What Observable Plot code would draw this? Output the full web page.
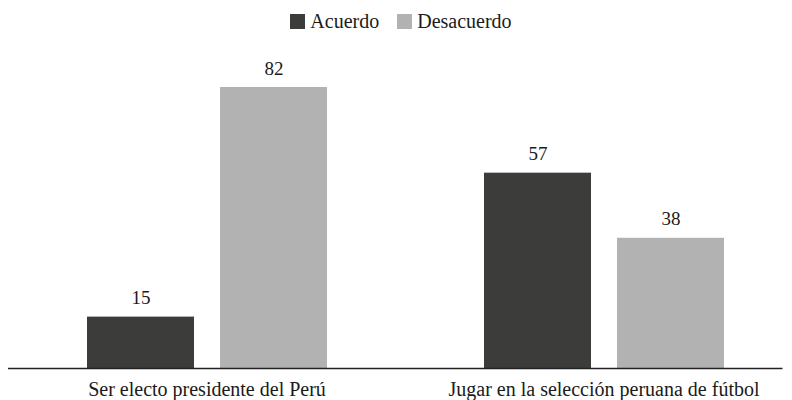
<!DOCTYPE html>
<html>
<head>
<meta charset="utf-8">
<script src="https://cdn.jsdelivr.net/npm/d3@7"></script>
<script src="https://cdn.jsdelivr.net/npm/@observablehq/plot@0.6"></script>
<style>
  html, body { margin: 0; padding: 0; background: #fff; }
  body { width: 792px; height: 400px; overflow: hidden; font-family: "Liberation Serif", serif; color: #1a1a1a; }
  #legend { height: 40px; box-sizing: border-box; padding-left: 10px; display: flex; justify-content: center; align-items: flex-start; gap: 18px; font-size: 20px; line-height: 20px; }
  #legend .item { display: flex; align-items: center; margin-top: 11px; }
  #legend .sw { width: 15px; height: 15px; margin-right: 5px; }
  #chart svg { display: block; }
</style>
</head>
<body>
<div id="legend"></div>
<div id="chart"></div>
<script>
const categories = ["Ser electo presidente del Perú", "Jugar en la selección peruana de fútbol"];
const series = ["Acuerdo", "Desacuerdo"];
const acuerdo = [15, 57];
const desacuerdo = [82, 38];
const colors = ["#3c3c3b", "#b2b2b2"];

const rows = [];
categories.forEach((c, i) => {
  rows.push({cat: c, serie: series[0], value: acuerdo[i]});
  rows.push({cat: c, serie: series[1], value: desacuerdo[i]});
});

const legend = document.getElementById("legend");
series.forEach((s, i) => {
  const item = document.createElement("div");
  item.className = "item";
  const sw = document.createElement("span");
  sw.className = "sw";
  sw.style.background = colors[i];
  const t = document.createElement("span");
  t.textContent = s;
  item.appendChild(sw);
  item.appendChild(t);
  legend.appendChild(item);
});

const chart = Plot.plot({
  width: 792,
  height: 360,
  marginTop: 47,
  marginBottom: 32,
  marginLeft: 0,
  marginRight: 0,
  style: {fontFamily: "Liberation Serif", fontSize: "20px", color: "#1a1a1a", background: "#fff"},
  fx: {domain: categories, range: [7.5, 801.5], padding: 0, label: null, axis: "bottom", tickSize: 0, tickPadding: 13},
  x: {domain: series, paddingInner: 0.1955, paddingOuter: 0.59, axis: null},
  y: {domain: [0, 82], axis: null},
  color: {domain: series, range: colors},
  marks: [
    Plot.barY(rows, {fx: "cat", x: "serie", y: "value", fill: "serie"}),
    Plot.text(rows, {fx: "cat", x: "serie", y: "value", text: d => String(d.value), dy: -13, lineAnchor: "bottom", fill: "#1a1a1a", fontSize: 19}),
    Plot.ruleY([{cat: categories[0], y: 0}], {fx: "cat", y: "y", stroke: "#222", strokeWidth: 1.5}),
    Plot.ruleY([{cat: categories[1], y: 0}], {fx: "cat", y: "y", stroke: "#222", strokeWidth: 1.5, insetRight: 19.5})
  ]
});
document.getElementById("chart").appendChild(chart);
</script>
</body>
</html>
